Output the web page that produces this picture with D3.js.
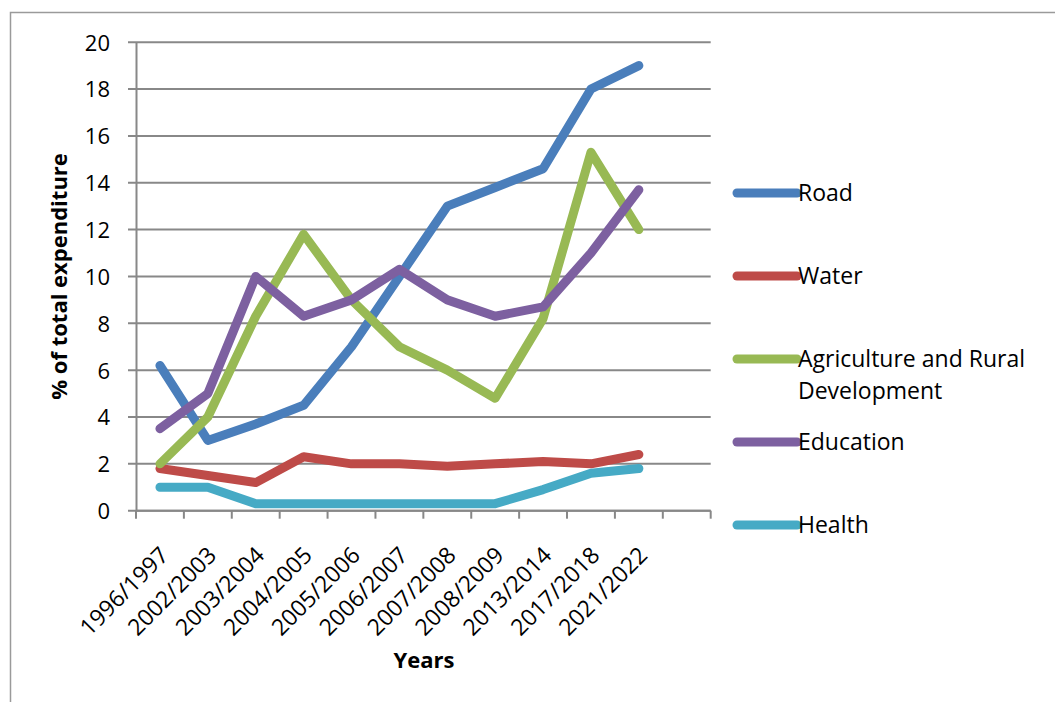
<!DOCTYPE html>
<html>
<head>
<meta charset="utf-8">
<script src="https://cdn.jsdelivr.net/npm/d3@7"></script>
<style>
  body { margin: 0; background: #fff; }
  text { font-family: "Open Sans", sans-serif; fill: #000; }
</style>
</head>
<body>
<div id="chart"></div>
<script>
var years = ["1996/1997", "2002/2003", "2003/2004", "2004/2005", "2005/2006", "2006/2007",
  "2007/2008", "2008/2009", "2013/2014", "2017/2018", "2021/2022"];
var slots = years.concat([""]); // the category axis has one empty slot at the end

var road = [6.2, 3.0, 3.7, 4.5, 7.0, 10.0, 13.0, 13.8, 14.6, 18.0, 19.0];
var water = [1.8, 1.5, 1.2, 2.3, 2.0, 2.0, 1.9, 2.0, 2.1, 2.0, 2.4];
var agriculture = [2.0, 4.0, 8.3, 11.8, 9.0, 7.0, 6.0, 4.8, 8.2, 15.3, 12.0];
var education = [3.5, 5.0, 10.0, 8.3, 9.0, 10.3, 9.0, 8.3, 8.7, 11.0, 13.7];
var health = [1.0, 1.0, 0.3, 0.3, 0.3, 0.3, 0.3, 0.3, 0.9, 1.6, 1.8];
var yTicks = [0, 2, 4, 6, 8, 10, 12, 14, 16, 18, 20];

var series = [
  { name: "Road", values: road, color: "#4a7ebb" },
  { name: "Water", values: water, color: "#be4b48" },
  { name: ["Agriculture and Rural", "Development"], values: agriculture, color: "#98b954" },
  { name: "Education", values: education, color: "#7d60a0" },
  { name: "Health", values: health, color: "#46aac5" }
];

var width = 1055, height = 702;
var margin = { left: 136, top: 42.2, right: 1055 - 710.7, bottom: 702 - 510.7 };
var plotW = width - margin.left - margin.right;
var plotH = height - margin.top - margin.bottom;

var svg = d3.select("#chart").append("svg")
  .attr("width", width)
  .attr("height", height);

// chart area border
svg.append("rect")
  .attr("x", 10.5).attr("y", 12.5)
  .attr("width", 1100).attr("height", 800)
  .attr("fill", "none")
  .attr("stroke", "#9a9a9a")
  .attr("stroke-width", 1.5);

var plot = svg.append("g")
  .attr("transform", "translate(" + margin.left + "," + margin.top + ")");

var x = d3.scaleBand().domain(d3.range(slots.length)).range([0, plotW]);
var y = d3.scaleLinear().domain([0, 20]).range([plotH, 0]);

// gridlines
plot.append("g")
  .selectAll("line")
  .data(yTicks)
  .enter().append("line")
  .attr("x1", -8)
  .attr("x2", plotW)
  .attr("y1", function(d) { return y(d) })
  .attr("y2", function(d) { return y(d) })
  .attr("stroke", "#888")
  .attr("stroke-width", 2);

// y axis
var yAxis = d3.axisLeft(y).tickValues(yTicks).tickSize(0).tickPadding(26);
plot.append("g")
  .attr("class", "y-axis")
  .call(yAxis)
  .call(function(g) { g.select(".domain").attr("stroke", "#888").attr("stroke-width", 2) })
  .selectAll("text")
  .style("font-size", "22px")
  .style("font-family", "'Open Sans', sans-serif")
  .attr("dy", "0.36em");

// x axis with ticks at slot boundaries
plot.append("g")
  .attr("transform", "translate(0," + plotH + ")")
  .call(function(g) {
    g.append("line")
      .attr("x1", 0).attr("x2", plotW)
      .attr("stroke", "#888").attr("stroke-width", 2);
    g.selectAll(".tick")
      .data(d3.range(slots.length + 1))
      .enter().append("line")
      .attr("x1", function(d) { return d * x.step() })
      .attr("x2", function(d) { return d * x.step() })
      .attr("y1", 0).attr("y2", 8)
      .attr("stroke", "#888").attr("stroke-width", 2);
    g.selectAll(".xlab")
      .data(years)
      .enter().append("text")
      .attr("class", "xlab")
      .attr("text-anchor", "end")
      .attr("transform", function(d, i) {
        return "translate(" + (x(i) + x.bandwidth() / 2 + 10) + ",46) rotate(-45)";
      })
      .style("font-size", "23px")
      .text(function(d) { return d });
  });

// lines
var line = d3.line()
  .x(function(d, i) { return x(i) + x.bandwidth() / 2 })
  .y(function(d) { return y(d) });

plot.selectAll(".series")
  .data(series)
  .enter().append("path")
  .attr("class", "series")
  .attr("d", function(d) { return line(d.values) })
  .attr("fill", "none")
  .attr("stroke", function(d) { return d.color })
  .attr("stroke-width", 9)
  .attr("stroke-linecap", "round")
  .attr("stroke-linejoin", "round");

// axis titles
svg.append("text")
  .attr("transform", "translate(67," + (margin.top + plotH / 2) + ") rotate(-90)")
  .attr("text-anchor", "middle")
  .style("font-size", "22px")
  .style("font-weight", "bold")
  .text("% of total expenditure");

svg.append("text")
  .attr("x", 424)
  .attr("y", 668)
  .attr("text-anchor", "middle")
  .style("font-size", "22px")
  .style("font-weight", "bold")
  .text("Years");

// legend
var legendY = [193, 276, 359, 442, 525];
var legend = svg.selectAll(".legend")
  .data(series)
  .enter().append("g")
  .attr("class", "legend")
  .attr("transform", function(d, i) { return "translate(737," + legendY[i] + ")" });

legend.append("line")
  .attr("x1", 0).attr("x2", 60)
  .attr("stroke", function(d) { return d.color })
  .attr("stroke-width", 9)
  .attr("stroke-linecap", "round");

legend.append("text")
  .style("font-size", "23px")
  .each(function(d) {
    var names = [].concat(d.name);
    d3.select(this).selectAll("tspan")
      .data(names)
      .enter().append("tspan")
      .attr("x", 61)
      .attr("dy", function(n, j) { return j === 0 ? "0.36em" : "1.4em" })
      .text(function(n) { return n });
  });
</script>
</body>
</html>
